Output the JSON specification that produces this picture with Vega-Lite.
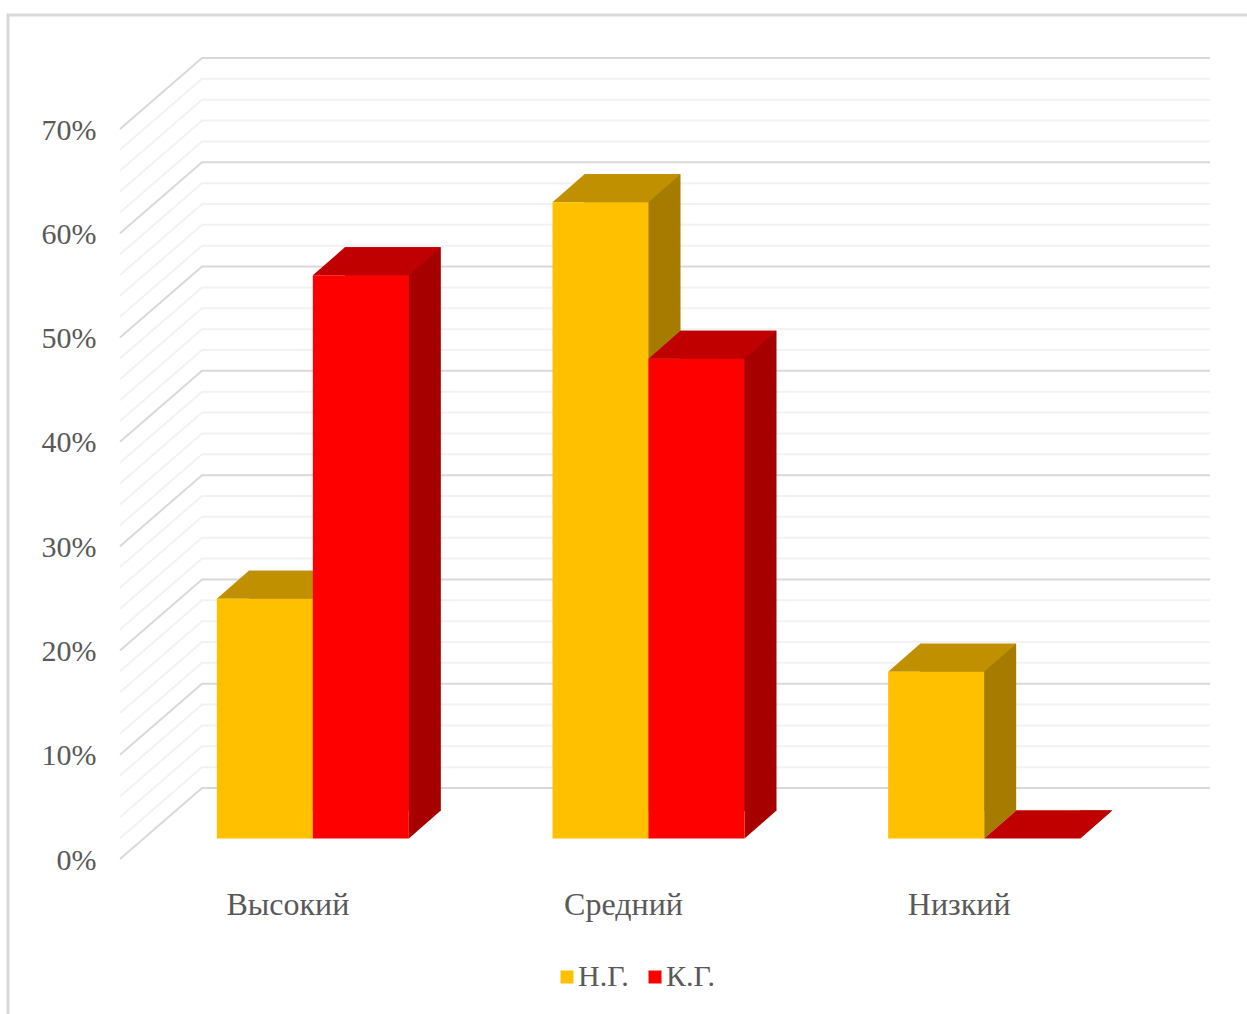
{
"$schema":"https://vega.github.io/schema/vega-lite/v6.json",
"width":1007,"height":730,
"autosize":{"type":"none"},
"padding":{"left":120,"top":129,"right":120,"bottom":155},
"background":"#ffffff",
"config":{"view":{"stroke":null},"font":"Liberation Serif"},
"datasets":{
"bars":[
{"level":"Высокий","group":"Н.Г.","value":23},
{"level":"Средний","group":"Н.Г.","value":61},
{"level":"Низкий","group":"Н.Г.","value":16},
{"level":"Высокий","group":"К.Г.","value":54},
{"level":"Средний","group":"К.Г.","value":46},
{"level":"Низкий","group":"К.Г.","value":0}
],
"major":[{"pct":0},{"pct":10},{"pct":20},{"pct":30},{"pct":40},{"pct":50},{"pct":60},{"pct":70}],
"minor":[{"pct":2},{"pct":4},{"pct":6},{"pct":8},{"pct":12},{"pct":14},{"pct":16},{"pct":18},{"pct":22},{"pct":24},{"pct":26},{"pct":28},{"pct":32},{"pct":34},{"pct":36},{"pct":38},{"pct":42},{"pct":44},{"pct":46},{"pct":48},{"pct":52},{"pct":54},{"pct":56},{"pct":58},{"pct":62},{"pct":64},{"pct":66},{"pct":68}]
},
"layer":[
{"data":{"name":"minor"},
 "mark":{"type":"point","shape":"M-503.5 0L-421.5 -71L586.5 -71","size":4,"filled":false,"fill":null,"stroke":"#f2f2f2","strokeWidth":2,"opacity":1},
 "encoding":{"y":{"field":"pct","type":"quantitative","scale":{"domain":[0,70],"nice":false,"zero":false},
   "axis":{"title":null,"values":[0,10,20,30,40,50,60,70],"labelExpr":"datum.value + '%'","labelFont":"Liberation Serif","labelFontSize":30,"labelColor":"#595959","ticks":false,"domain":false,"grid":false,"labelPadding":24,"labelOffset":1}}}},
{"data":{"name":"major"},
 "mark":{"type":"point","shape":"M-503.5 0L-421.5 -71L586.5 -71","size":4,"filled":false,"fill":null,"stroke":"#d9d9d9","strokeWidth":2,"opacity":1},
 "encoding":{"y":{"field":"pct","type":"quantitative"}}},
{"data":{"values":[{"frame":"chart"}]},
 "mark":{"type":"point","shape":"M-615.5 520L-615.5 -479L623.5 -479","size":4,"filled":false,"fill":null,"stroke":"#d9d9d9","strokeWidth":3,"opacity":1},
 "encoding":{}},
{"data":{"name":"bars"},"transform":[{"filter":{"field":"group","equal":"Н.Г."}}],
 "mark":{"type":"bar","width":96,"xOffset":9,"yOffset":-48.5,"y2Offset":-48,"color":"#a67c00"},
 "encoding":{"x":{"field":"level","type":"nominal","sort":null,"scale":{"domain":["Высокий","Средний","Низкий"],"paddingInner":0.428,"paddingOuter":0.214},
   "axis":{"title":null,"labelAngle":0,"labelFont":"Liberation Serif","labelFontSize":32,"labelColor":"#595959","ticks":false,"domain":false,"grid":false,"labelPadding":30}},
  "y":{"field":"value","type":"quantitative","stack":null},"y2":{"datum":0}}},
{"data":{"name":"bars"},"transform":[{"filter":{"field":"group","equal":"Н.Г."}}],
 "mark":{"type":"point","shape":"M0 -28L0 0L32 -28Z","size":4,"filled":true,"fill":"#a67c00","stroke":null,"opacity":1,"xOffset":25,"yOffset":-20.5},
 "encoding":{"x":{"field":"level","type":"nominal"},"y":{"datum":0}}},
{"data":{"name":"bars"},"transform":[{"filter":{"field":"group","equal":"Н.Г."}}],
 "mark":{"type":"point","shape":"M-96 0L0 0L32 -28L-64 -28Z","size":4,"filled":true,"fill":"#c09000","stroke":null,"opacity":1,"xOffset":25,"yOffset":-20.5},
 "encoding":{"x":{"field":"level","type":"nominal"},"y":{"field":"value","type":"quantitative"}}},
{"data":{"name":"bars"},"transform":[{"filter":{"field":"group","equal":"Н.Г."}}],
 "mark":{"type":"bar","width":96,"xOffset":-23,"yOffset":-20.5,"y2Offset":-20.5},
 "encoding":{"x":{"field":"level","type":"nominal"},"y":{"field":"value","type":"quantitative","stack":null},"y2":{"datum":0},
  "color":{"field":"group","type":"nominal","scale":{"domain":["Н.Г.","К.Г."],"range":["#ffc000","#ff0000"]},
   "legend":{"title":null,"orient":"none","legendX":432,"legendY":833,"direction":"horizontal","columns":2,"symbolType":"square","symbolSize":169,"symbolStrokeWidth":0,"symbolOpacity":1,"labelFont":"Liberation Serif","labelFontSize":30,"labelColor":"#595959","labelOffset":-4,"columnPadding":11}}}},
{"data":{"name":"bars"},"transform":[{"filter":{"field":"group","equal":"К.Г."}}],
 "mark":{"type":"bar","width":96,"xOffset":105,"yOffset":-48.5,"y2Offset":-48,"color":"#a60000"},
 "encoding":{"x":{"field":"level","type":"nominal"},"y":{"field":"value","type":"quantitative","stack":null},"y2":{"datum":0}}},
{"data":{"name":"bars"},"transform":[{"filter":{"field":"group","equal":"К.Г."}}],
 "mark":{"type":"point","shape":"M96 -28L96 0L128 -28Z","size":4,"filled":true,"fill":"#a60000","stroke":null,"opacity":1,"xOffset":25,"yOffset":-20.5},
 "encoding":{"x":{"field":"level","type":"nominal"},"y":{"datum":0}}},
{"data":{"name":"bars"},"transform":[{"filter":{"field":"group","equal":"К.Г."}}],
 "mark":{"type":"point","shape":"M0 0L96 0L128 -28L32 -28Z","size":4,"filled":true,"fill":"#c00000","stroke":null,"opacity":1,"xOffset":25,"yOffset":-20.5},
 "encoding":{"x":{"field":"level","type":"nominal"},"y":{"field":"value","type":"quantitative"}}},
{"data":{"name":"bars"},"transform":[{"filter":{"field":"group","equal":"К.Г."}}],
 "mark":{"type":"bar","width":96,"xOffset":73,"yOffset":-20.5,"y2Offset":-20.5},
 "encoding":{"x":{"field":"level","type":"nominal"},"y":{"field":"value","type":"quantitative","stack":null},"y2":{"datum":0},
  "color":{"field":"group","type":"nominal"}}}
]
}
